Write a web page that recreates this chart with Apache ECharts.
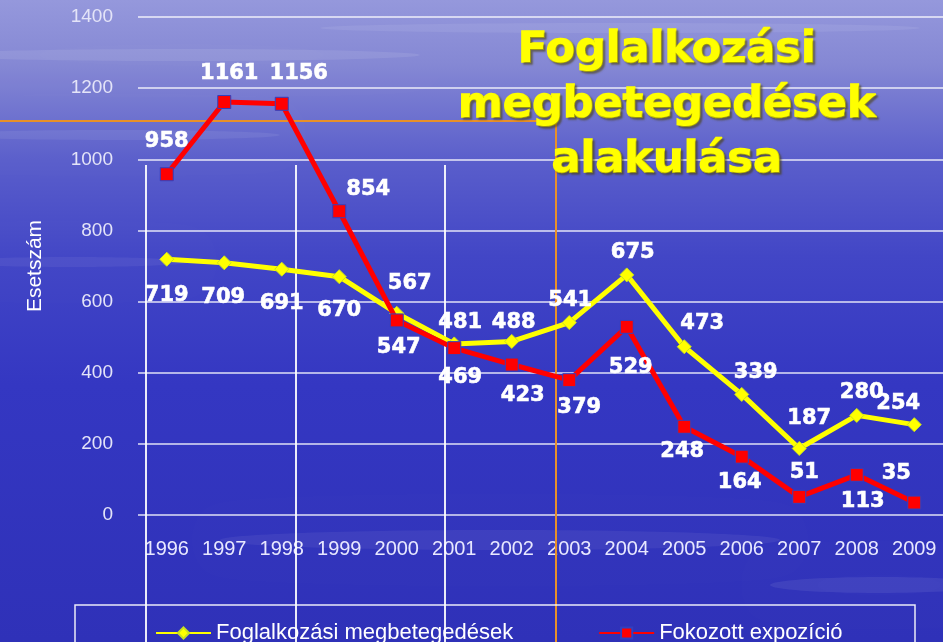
<!DOCTYPE html>
<html>
<head>
<meta charset="utf-8">
<script src="https://cdn.jsdelivr.net/npm/echarts@6/dist/echarts.min.js"></script>
<style>
html,body{margin:0;padding:0;background:#3a3ec4;}
#chart{width:943px;height:642px;}
</style>
</head>
<body>
<div id="chart"></div>
<script>
const years = ['1996','1997','1998','1999','2000','2001','2002','2003','2004','2005','2006','2007','2008','2009'];
const occDisease = [719,709,691,670,567,481,488,541,675,473,339,187,280,254];
const exposure = [958,1161,1156,854,547,469,423,379,529,248,164,51,113,35];
const seriesNames = ['Foglalkozási megbetegedések','Fokozott expozíció'];
const titleText = 'Foglalkozási\nmegbetegedések\nalakulása';
const yAxisName = 'Esetszám';

// label placement (offset of label centre from the point)
const occLabelOffset = [[0,36],[-1,35],[0,34],[0,34],[13,-30],[6,-21],[2,-19],[1,-22],[6,-22],[18,-23],[14,-22],[10,-30],[5,-23],[-16,-21]];
const expLabelOffset = [[0,-33],[5,-28],[17,-30],[29,-22],[2,27],[6,29],[11,31],[10,27],[4,41],[-2,25],[-2,26],[5,-24],[6,27],[-18,-29]];

function buildData(values, offsets){
  return values.map((v,i)=>({value:v,label:{offset:offsets[i]}}));
}

const chart = echarts.init(document.getElementById('chart'), null, {renderer:'canvas'});
const labelStyle = {show:true, position:'inside', color:'#ffffff', fontFamily:'DejaVu Sans', fontWeight:'bold', fontSize:21,
  textBorderColor:'#ffffff', textBorderWidth:0.6};

const streak = (cx,cy,rx,ry,a)=>({type:'ellipse', z:-9, silent:true, shape:{cx,cy,rx,ry},
  style:{fill:'rgba(255,255,255,'+a+')', shadowBlur:30, shadowColor:'rgba(255,255,255,'+(a*2)+')'}});

const option = {
  backgroundColor: 'transparent',
  animation:false,
  title:{
    text:titleText, left:662, top:18, textAlign:'center',
    textStyle:{color:'#ffff00', fontFamily:'DejaVu Sans', fontWeight:'bold', fontSize:43, lineHeight:55,
      textBorderColor:'#ffff00', textBorderWidth:1.5,
      textShadowColor:'rgba(70,60,0,0.5)', textShadowBlur:2, textShadowOffsetX:2, textShadowOffsetY:2}
  },
  grid:{left:138, right:-7, top:17, bottom:127},
  legend:{
    left:150, top:617, itemWidth:55, itemHeight:14, itemGap:85,
    textStyle:{color:'#ffffff', fontFamily:'Liberation Sans', fontSize:22},
    data:seriesNames
  },
  xAxis:{
    type:'category', data:years, boundaryGap:true,
    axisLine:{show:false}, axisTick:{show:false},
    axisLabel:{interval:0, color:'#e8e8ff', fontFamily:'Liberation Sans', fontSize:20, margin:24}
  },
  yAxis:{
    type:'value', min:0, max:1400, interval:200,
    name:yAxisName, nameLocation:'middle', nameGap:92, nameRotate:90,
    nameTextStyle:{color:'#ffffff', fontFamily:'Liberation Sans', fontSize:21},
    axisLine:{show:false}, axisTick:{show:false},
    axisLabel:{color:'#e4e4f8', fontFamily:'Liberation Sans', fontSize:19, margin:25, formatter:(v)=>String(v)},
    splitLine:{lineStyle:{color:'rgba(255,255,255,0.85)', width:1.5}}
  },
  graphic:[
    {type:'rect', z:-10, silent:true, shape:{x:0,y:0,width:943,height:642},
      style:{fill:new echarts.graphic.LinearGradient(0,0,0,1,[
        {offset:0,color:'#9598dc'},{offset:0.1,color:'#8588d4'},{offset:0.25,color:'#5a5ecb'},
        {offset:0.4,color:'#4246c6'},{offset:0.6,color:'#3437c2'},{offset:1,color:'#2f31b8'}])}},
    streak(180,55,240,6,0.09),
    streak(620,28,300,5,0.08),
    streak(110,135,170,5,0.07),
    streak(70,262,120,5,0.06),
    streak(500,540,280,10,0.06),
    streak(880,585,110,8,0.07),
    // slide decorations
    {type:'line', z:1, silent:true, shape:{x1:0,y1:121,x2:556,y2:121}, style:{stroke:'#e8902a', lineWidth:2}},
    {type:'line', z:1, silent:true, shape:{x1:556,y1:121,x2:556,y2:642}, style:{stroke:'#e8902a', lineWidth:2}},
    {type:'line', z:1, silent:true, shape:{x1:146,y1:165,x2:146,y2:642}, style:{stroke:'rgba(255,255,255,0.9)', lineWidth:2}},
    {type:'line', z:1, silent:true, shape:{x1:296,y1:165,x2:296,y2:642}, style:{stroke:'rgba(255,255,255,0.9)', lineWidth:2}},
    {type:'line', z:1, silent:true, shape:{x1:445,y1:165,x2:445,y2:642}, style:{stroke:'rgba(255,255,255,0.9)', lineWidth:2}},
    {type:'rect', z:1, silent:true, shape:{x:75,y:605,width:840,height:60}, style:{fill:'none', stroke:'rgba(255,255,255,0.9)', lineWidth:1.5}}
  ],
  series:[
    {name:seriesNames[0], type:'line', data:buildData(occDisease, occLabelOffset),
      symbol:'diamond', symbolSize:14, z:3,
      lineStyle:{color:'#ffff00', width:5},
      itemStyle:{color:'#ffff00', borderColor:'#c8e020', borderWidth:1},
      label:labelStyle},
    {name:seriesNames[1], type:'line', data:buildData(exposure, expLabelOffset),
      symbol:'rect', symbolSize:13, z:4,
      lineStyle:{color:'#ff0000', width:5},
      itemStyle:{color:'#ff0000', borderColor:'#3040c0', borderWidth:1},
      label:labelStyle}
  ]
};
chart.setOption(option);
</script>
</body>
</html>
